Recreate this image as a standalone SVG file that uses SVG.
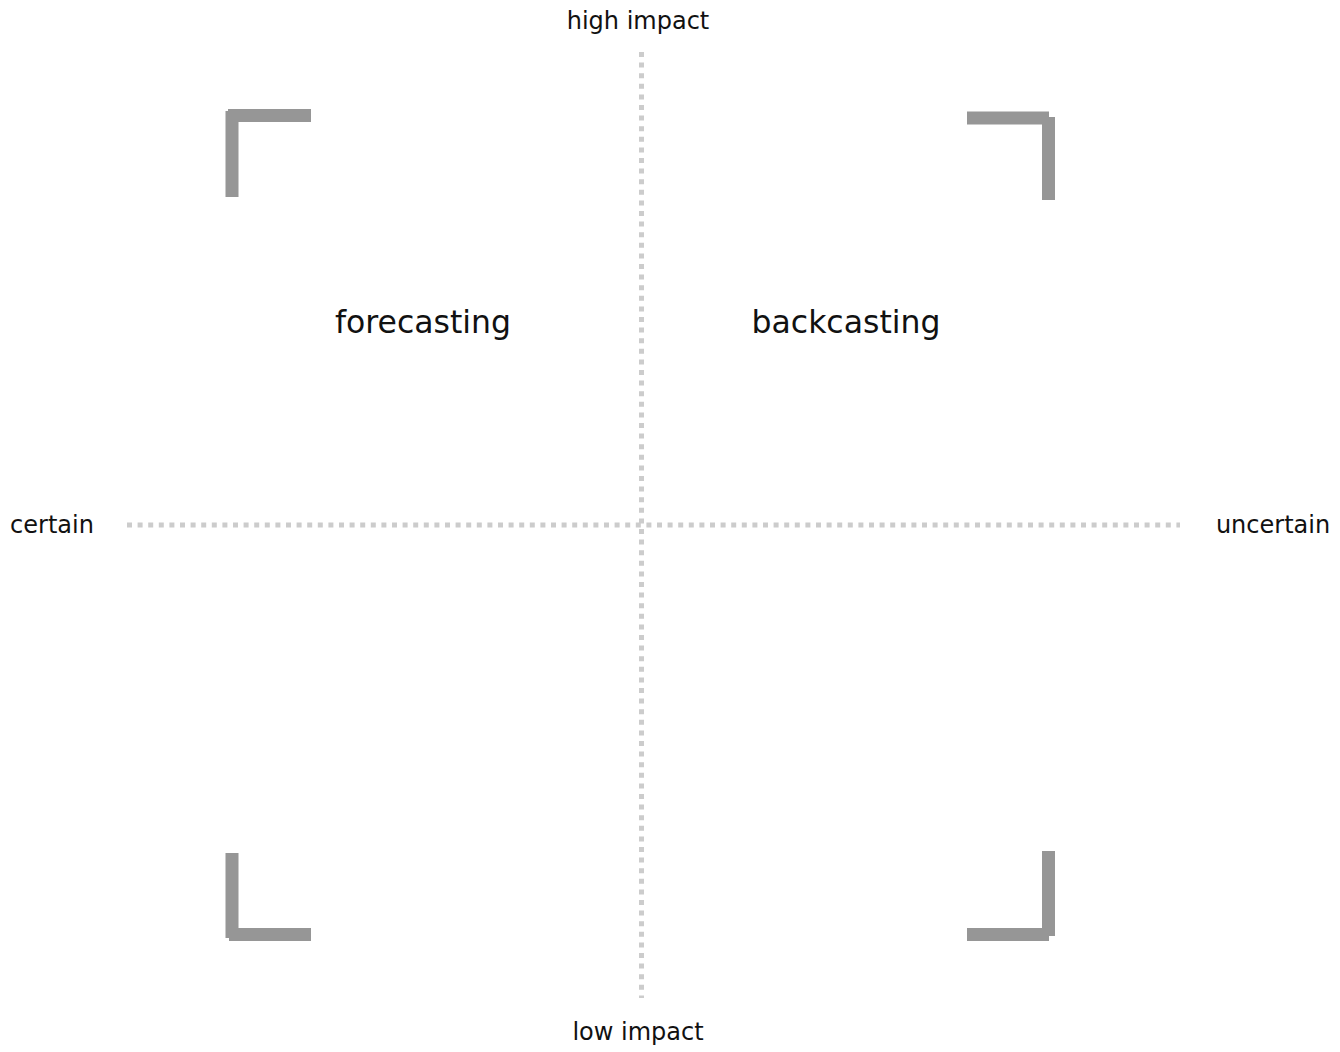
<svg xmlns="http://www.w3.org/2000/svg" width="1340" height="1052" viewBox="0 0 1340 1052">
<style>
.axis{stroke:#cccccc;stroke-width:5;stroke-dasharray:5 5.6;fill:none}
.corner{stroke:#969696;stroke-width:13;fill:none}
.lbl{font-family:"DejaVu Sans",Verdana,sans-serif;font-size:24px;fill:#111}
.big{font-family:"DejaVu Sans",Verdana,sans-serif;font-size:31.5px;fill:#111}
</style>
<rect width="1340" height="1052" fill="#ffffff"/>
<g id="connectors">
<line class="axis" x1="641.5" y1="52" x2="641.5" y2="998"/>
<line class="axis" x1="127" y1="525" x2="1180" y2="525"/>
</g>
<g id="corner-tl">
<line class="corner" x1="228" y1="115.5" x2="311" y2="115.5"/>
<line class="corner" x1="232" y1="111" x2="232" y2="197"/>
</g>
<g id="corner-tr">
<line class="corner" x1="967" y1="118" x2="1049" y2="118"/>
<line class="corner" x1="1048.5" y1="117" x2="1048.5" y2="200"/>
</g>
<g id="corner-bl">
<line class="corner" x1="232" y1="853" x2="232" y2="938"/>
<line class="corner" x1="229" y1="934.5" x2="311" y2="934.5"/>
</g>
<g id="corner-br">
<line class="corner" x1="1048.5" y1="851" x2="1048.5" y2="936"/>
<line class="corner" x1="967" y1="934.5" x2="1049" y2="934.5"/>
</g>
<g id="label-high"><text class="lbl" x="638" y="29" text-anchor="middle">high impact</text></g>
<g id="label-low"><text class="lbl" x="638" y="1040" text-anchor="middle">low impact</text></g>
<g id="label-certain"><text class="lbl" x="52" y="533" text-anchor="middle">certain</text></g>
<g id="label-uncertain"><text class="lbl" x="1273" y="533" text-anchor="middle">uncertain</text></g>
<g id="forecasting"><text class="big" x="423" y="333" text-anchor="middle">forecasting</text></g>
<g id="backcasting"><text class="big" x="846" y="333" text-anchor="middle">backcasting</text></g>
</svg>
